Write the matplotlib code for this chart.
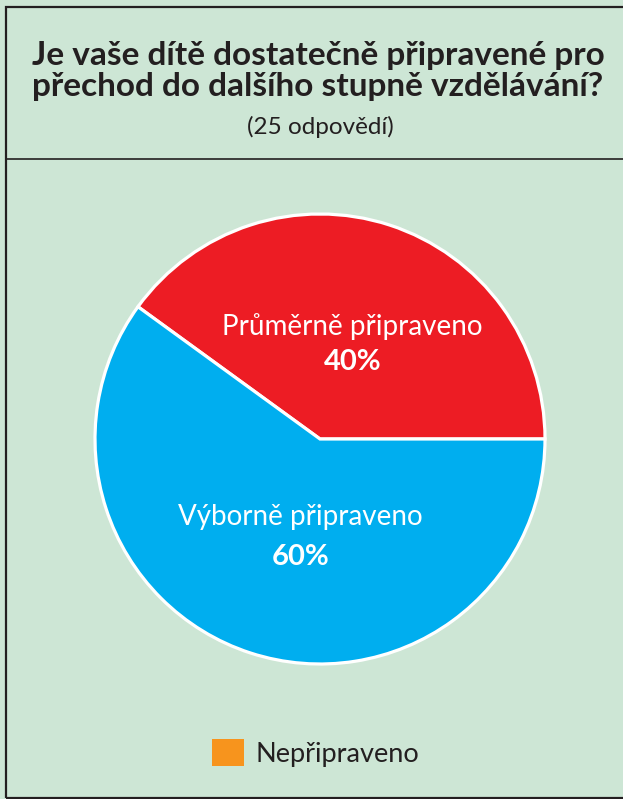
import matplotlib
matplotlib.use("Agg")
import matplotlib.pyplot as plt
from matplotlib.patches import Rectangle, Patch

title = "Je vaše dítě dostatečně připravené pro\npřechod do dalšího stupně vzdělávání?"
subtitle = "(25 odpovědí)"
categories = ["Průměrně připraveno", "Výborně připraveno", "Nepřipraveno"]
counts = [10, 15, 0]
colors = ["#ED1C24", "#00AEEF", "#F7941D"]

bg = "#CDE6D5"
ink = "#231F20"
plt.rcParams["font.family"] = ["Lato", "DejaVu Sans"]

W, H = 623, 799
fig = plt.figure(figsize=(W / 100, H / 100), dpi=100, facecolor=bg)

# frame and title separator
fig.add_artist(Rectangle((6 / W, 1.5 / H), (W + 10) / W, (H - 8.5) / H, transform=fig.transFigure,
                         facecolor="none", edgecolor=ink, linewidth=1.6))
fig.add_artist(plt.Line2D([6 / W, 1], [1 - 159 / H] * 2, transform=fig.transFigure, color=ink, linewidth=1.2))

fig.text(318 / W, 1 - 71 / H, title, ha="center", va="center", fontsize=24, fontweight="bold",
         color=ink, linespacing=1.1)
fig.text(320 / W, 1 - 127 / H, subtitle, ha="center", va="center", fontsize=17.5, color=ink)

# pie
cx, cy, r = 320, 439, 225 * 1.02
ax = fig.add_axes([(cx - r) / W, (H - cy - r) / H, 2 * r / W, 2 * r / H])
ax.set_facecolor(bg)
shown = [i for i, c in enumerate(counts) if c > 0]
wedges, _ = ax.pie([counts[i] for i in shown], colors=[colors[i] for i in shown], startangle=0,
                   counterclock=True, radius=1, wedgeprops=dict(edgecolor="white", linewidth=2.3))
ax.set_xlim(-1.02, 1.02)
ax.set_ylim(-1.02, 1.02)
ax.axis("off")

total = sum(counts)
label_pos = {0: (0.145, 0.498, 0.342), 1: (-0.088, -0.347, -0.524)}
for i in shown:
    x, y_name, y_pct = label_pos[i]
    pct = round(100 * counts[i] / total)
    ax.text(x, y_name, categories[i], ha="center", va="center", color="white", fontsize=20)
    ax.text(x, y_pct, f"{pct}%", ha="center", va="center", color="white", fontsize=21,
            fontweight="bold")

# legend for empty category
missing = [i for i, c in enumerate(counts) if c == 0]
handles = [Patch(facecolor=colors[i], edgecolor="none") for i in missing]
fig.legend(handles, [categories[i] for i in missing], loc="center", bbox_to_anchor=(316 / W, 1 - 753 / H),
           frameon=False, fontsize=19.5, handlelength=1.15, handleheight=1.15, handletextpad=0.45,
           labelcolor=ink)

fig.savefig("out.png", dpi=100, facecolor=bg)
